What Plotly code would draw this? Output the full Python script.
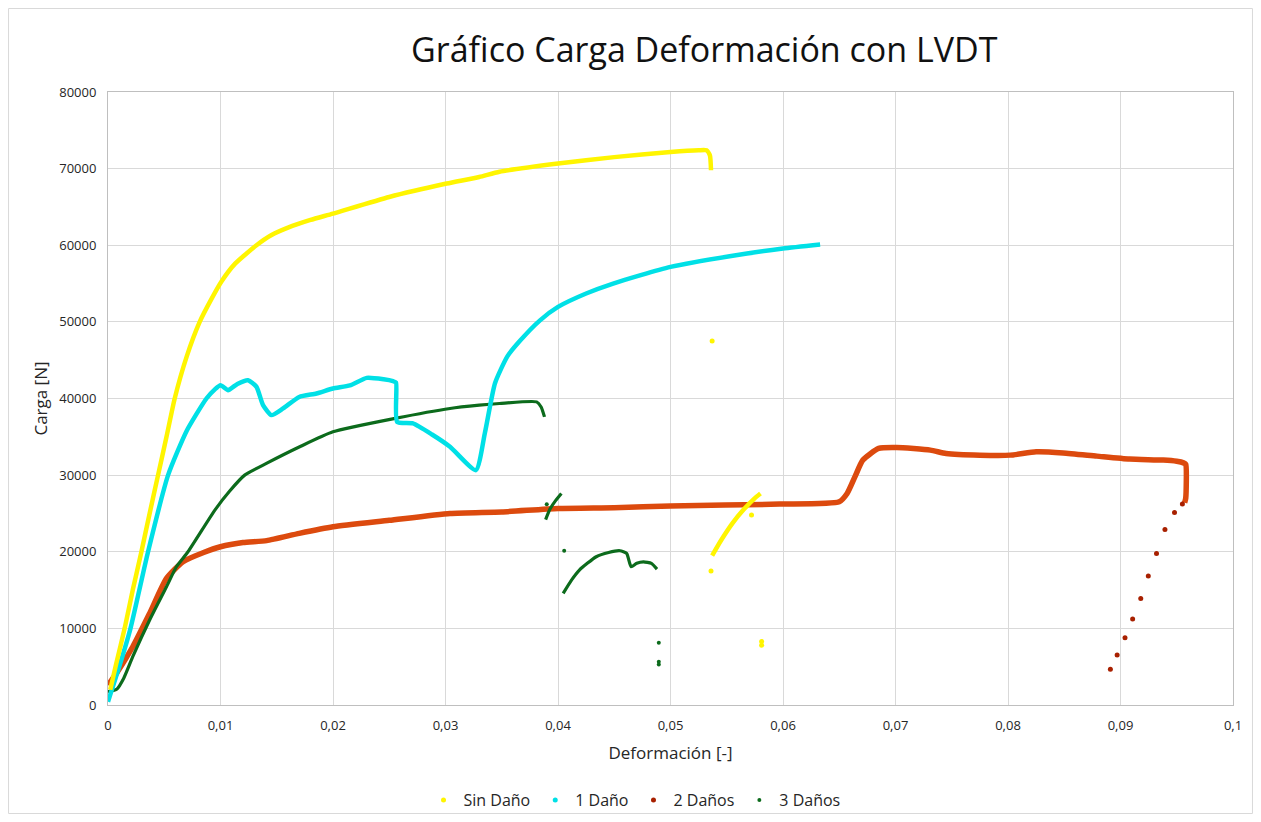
import plotly.graph_objects as go

# ---------------- data ----------------
series_names = ["Sin Daño", "1 Daño", "2 Daños", "3 Daños"]

# Sin Daño (yellow)
sin_x = [0.0002, 0.00075, 0.00148, 0.0022, 0.00297, 0.0037, 0.00445, 0.0052, 0.00593, 0.007,
         0.00815, 0.0092, 0.0101, 0.0113, 0.0132, 0.0145, 0.016, 0.018, 0.02, 0.025, 0.0301,
         0.033, 0.0348, 0.04, 0.045, 0.05, 0.0525, 0.0532, 0.0535, 0.0536,
         None,
         0.0537, 0.0545, 0.0555, 0.0565, 0.0575, 0.058]
sin_y = [2000, 5500, 10000, 15000, 20000, 25000, 30000, 35000, 40000, 45500,
         50000, 53000, 55300, 57600, 60000, 61300, 62300, 63300, 64130, 66300, 68050,
         68910, 69600, 70660, 71500, 72170, 72400, 72400, 71740, 69790,
         None,
         19500, 21500, 23700, 25500, 27000, 27600]
sin_dots_x = [0.0537, 0.0536, 0.0572, 0.0581, 0.0581]
sin_dots_y = [47520, 17480, 24780, 8300, 7800]

# 1 Daño (cyan)
d1_x = [0.0, 0.001, 0.002, 0.00356, 0.00534, 0.007, 0.00875, 0.0095, 0.0100, 0.01067,
        0.0115, 0.01245, 0.0132, 0.01378, 0.01453, 0.01556, 0.017, 0.01853, 0.02, 0.0215,
        0.023, 0.0245, 0.02534, 0.0256, 0.0257, 0.0271, 0.0288, 0.0304, 0.0327, 0.0335,
        0.0344, 0.0355, 0.0366, 0.0384, 0.04, 0.0425, 0.0449, 0.05, 0.0568, 0.06, 0.0633]
d1_y = [430, 5000, 10000, 20000, 30000, 35800, 40000, 41200, 41740, 41090,
        41900, 42390, 41520, 39130, 37830, 38700, 40200, 40650, 41300, 41700,
        42690, 42500, 42260, 42100, 36950, 36750, 35300, 33700, 30650, 35500,
        42000, 45500, 47500, 50200, 51950, 53700, 55000, 57170, 58920, 59570, 60100]

# 2 Daños (orange-red)
d2_x = [0.0, 0.00075, 0.0022, 0.0037, 0.0052, 0.00667, 0.0085, 0.01, 0.012, 0.0141,
        0.017, 0.02, 0.025, 0.0304, 0.035, 0.04, 0.045, 0.05, 0.0597, 0.065,
        0.0657, 0.0664, 0.0671, 0.0685, 0.0701, 0.0731, 0.0745, 0.0775, 0.0802, 0.0825,
        0.0849, 0.0879, 0.0908, 0.0938, 0.095, 0.0956, 0.0958, 0.0958, 0.0957]
d2_y = [2600, 4130, 7600, 11960, 16520, 18700, 19900, 20650, 21200, 21450,
        22400, 23260, 24100, 25000, 25200, 25650, 25750, 25960, 26220, 26520,
        27600, 29800, 31960, 33480, 33600, 33260, 32830, 32610, 32610, 33040,
        32900, 32480, 32090, 31960, 31800, 31600, 31400, 27000, 26400]
d2_dots_x = [0.0955, 0.0948, 0.09395, 0.0932, 0.09247, 0.0918, 0.09108, 0.0904, 0.0897, 0.0891]
d2_dots_y = [26220, 25130, 22910, 19780, 16830, 13910, 11220, 8780, 6520, 4650]

# 3 Daños (dark green)
d3_x = [0.0, 0.0008, 0.0014, 0.0022, 0.0037, 0.0052, 0.00608, 0.00711, 0.0095, 0.0108,
        0.01215, 0.01408, 0.01704, 0.02, 0.0255, 0.0304, 0.033, 0.0348, 0.0381, 0.0385, 0.0388,
        None,
        0.0389, 0.0393, 0.0398, 0.0403,
        None,
        0.04046, 0.0412, 0.0419, 0.0434, 0.0445, 0.0455, 0.0461, 0.0465, 0.047, 0.0476,
        0.0483, 0.0488]
d3_y = [1740, 2100, 3500, 6300, 11090, 15430, 18040, 20000, 25440, 27900,
        30000, 31530, 33700, 35650, 37400, 38700, 39130, 39350, 39560, 38900, 37600,
        None,
        24200, 25600, 26700, 27600,
        None,
        14570, 16300, 17610, 19350, 19900, 20130, 19790, 18040, 18500, 18690,
        18480, 17740]
d3_dots_x = [0.039, 0.04055, 0.04896, 0.04896, 0.04896]
d3_dots_y = [26200, 20130, 8130, 5650, 5300]

x_tickvals = [0, 0.01, 0.02, 0.03, 0.04, 0.05, 0.06, 0.07, 0.08, 0.09, 0.1]
x_ticktext = ["0", "0,01", "0,02", "0,03", "0,04", "0,05", "0,06", "0,07", "0,08", "0,09", "0,1"]
y_tickvals = [0, 10000, 20000, 30000, 40000, 50000, 60000, 70000, 80000]

# ---------------- styling ----------------
C_YEL = "#FFF500"
C_CYAN = "#00E0E6"
C_ORANGE = "#DC4A0E"
C_RED_DOT = "#A82000"
C_GREEN = "#0C6B1C"
FONT = "Open Sans, Lato, sans-serif"
SM = 0.55

fig = go.Figure()

# draw order: orange, green, cyan, yellow
fig.add_trace(go.Scatter(x=d2_x, y=d2_y, mode="lines",
                         line=dict(color=C_ORANGE, width=5.5, shape="spline", smoothing=SM),
                         showlegend=False, legendgroup="d2", hoverinfo="skip"))
fig.add_trace(go.Scatter(x=d2_dots_x, y=d2_dots_y, mode="markers", name=series_names[2],
                         marker=dict(color=C_RED_DOT, size=5), legendgroup="d2", legendrank=3))
fig.add_trace(go.Scatter(x=d3_x, y=d3_y, mode="lines",
                         line=dict(color=C_GREEN, width=3.2, shape="spline", smoothing=SM),
                         showlegend=False, legendgroup="d3", hoverinfo="skip"))
fig.add_trace(go.Scatter(x=d3_dots_x, y=d3_dots_y, mode="markers", name=series_names[3],
                         marker=dict(color=C_GREEN, size=4), legendgroup="d3", legendrank=4))
fig.add_trace(go.Scatter(x=d1_x, y=d1_y, mode="lines",
                         line=dict(color=C_CYAN, width=4.5, shape="spline", smoothing=SM),
                         showlegend=False, legendgroup="d1", hoverinfo="skip"))
fig.add_trace(go.Scatter(x=[None], y=[None], mode="markers", name=series_names[1],
                         marker=dict(color=C_CYAN, size=5), legendgroup="d1", legendrank=2))
fig.add_trace(go.Scatter(x=sin_x, y=sin_y, mode="lines",
                         line=dict(color=C_YEL, width=4.5, shape="spline", smoothing=SM),
                         showlegend=False, legendgroup="d0", hoverinfo="skip"))
fig.add_trace(go.Scatter(x=sin_dots_x, y=sin_dots_y, mode="markers", name=series_names[0],
                         marker=dict(color=C_YEL, size=5), legendgroup="d0", legendrank=1))

fig.update_layout(
    width=1245, height=806,
    margin=dict(l=100, r=20, t=84, b=109, autoexpand=False),
    paper_bgcolor="white", plot_bgcolor="white",
    font=dict(family=FONT, color="#262626"),
    title=dict(text="Gráfico Carga Deformación con LVDT", font=dict(size=34, color="#111111"),
               x=0.530, xref="paper", xanchor="center", y=0.948, yref="container", yanchor="middle"),
    showlegend=True,
    legend=dict(orientation="h", x=0.468, xanchor="center", y=-0.155, yanchor="middle",
                font=dict(size=16, color="#262626"), bgcolor="rgba(0,0,0,0)", itemwidth=30,
                traceorder="normal"),
    shapes=[dict(type="rect", xref="paper", yref="paper", x0=-0.0884, x1=1.0173, y0=-0.177, y1=1.1362,
                 line=dict(color="#D9D9D9", width=1), fillcolor="rgba(0,0,0,0)", layer="below")],
)

fig.update_xaxes(range=[0, 0.1], tickvals=x_tickvals, ticktext=x_ticktext,
                 showgrid=True, gridcolor="#D9D9D9", gridwidth=1, zeroline=False,
                 showline=True, linecolor="#BFBFBF", linewidth=1, mirror=True,
                 ticks="", tickfont=dict(size=13, color="#262626"), ticklabelstandoff=8,
                 title=dict(text="Deformación [-]", font=dict(size=17, color="#262626"), standoff=14))
fig.update_yaxes(range=[0, 80000], tickvals=y_tickvals, tickformat="d",
                 showgrid=True, gridcolor="#D9D9D9", gridwidth=1, zeroline=False,
                 showline=True, linecolor="#BFBFBF", linewidth=1, mirror=True,
                 ticks="", tickfont=dict(size=13, color="#262626"), ticklabelstandoff=8,
                 title=dict(text="Carga [N]", font=dict(size=17, color="#262626"), standoff=7))

fig.write_html("out.html")
